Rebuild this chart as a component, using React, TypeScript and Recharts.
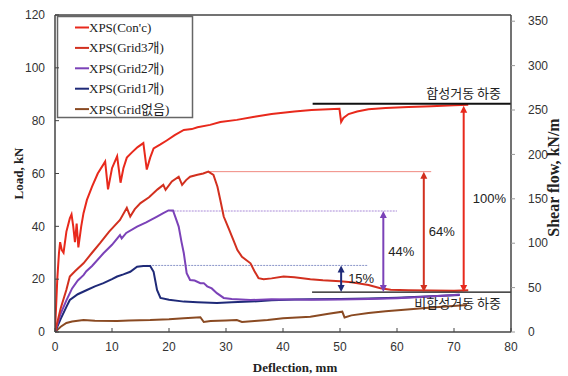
import React from "react";
import {
  ComposedChart,
  Line,
  XAxis,
  YAxis,
  ReferenceLine,
  Legend,
  Customized,
} from "recharts";

// deflection (mm), load (kN)
const concPoints = [
  [0, 0], [0.4, 20], [0.7, 30], [0.9, 34], [1.2, 31], [1.5, 30], [2.0, 38], [2.6, 43],
  [2.9, 44.5], [3.2, 40], [3.5, 34], [3.8, 41], [4.1, 32], [4.6, 40], [5.0, 45], [5.6, 50],
  [6.5, 55], [7.5, 60], [8.8, 64.5], [9.3, 54], [10.0, 62], [10.9, 66.5], [11.5, 56.5],
  [12.0, 62], [12.6, 66], [13.5, 68], [14.5, 70], [15.5, 71.5], [16.1, 61.5], [16.7, 66],
  [17.3, 69.5], [18.5, 71], [19.6, 72.5], [21, 74.5], [22.6, 76.5], [24, 76.8], [25, 77.5],
  [27.2, 78.4], [29, 79.5], [31.9, 80.3], [35, 81.5], [38, 82.5], [40, 83], [42, 83.5],
  [45, 84], [48, 84.3], [49.9, 84.5], [50.2, 79.5], [50.6, 81], [51.5, 82.5], [53, 83.5],
  [55, 84.3], [58, 84.8], [62, 85.2], [66, 85.5], [70, 85.8], [72.5, 86],
];

const grid3Points = [
  [0, 0], [1, 9], [2, 16], [2.6, 21], [3.5, 23], [5, 26], [6.5, 30], [7.9, 33.6], [9.5, 38],
  [11.4, 42.4], [12.6, 47], [13.2, 43.7], [14, 46.5], [15, 48.8], [16.5, 51], [18, 54],
  [19, 55.7], [19.4, 53.8], [20.5, 57], [21.7, 58.8], [22.3, 55.7], [23, 57.5], [23.7, 58.8],
  [25, 59.5], [26, 60], [26.9, 60.7], [27.8, 59.5], [28.5, 55], [29, 50], [29.6, 43.7],
  [30.5, 39], [31.3, 34.8], [32, 31], [32.8, 28.5], [34.3, 26], [35, 23], [35.7, 20.4],
  [36.6, 20], [38, 20.3], [40.1, 21], [42, 20.7], [44.8, 20], [47, 19.6], [50, 19.2],
  [52, 18.8], [55, 17.8], [57.1, 16.6], [58.9, 16], [62, 15.8], [66, 15.7], [70, 15.6], [72.5, 15.8],
];

const grid2Points = [
  [0, 0], [1, 7], [2, 12], [3, 16.5], [4, 19.5], [5, 21.5], [5.5, 23], [6.5, 25], [8.5, 29.8],
  [10, 33], [11.4, 36.7], [11.7, 35.4], [12.5, 37.5], [14.4, 39.9], [16, 41.5], [17.9, 43.7],
  [19, 45], [19.9, 46], [20.7, 46], [21.2, 43], [21.7, 39.9], [22.2, 34], [22.6, 29.8],
  [23.1, 22.3], [23.7, 19.7], [24.5, 19.5], [25.5, 18.5], [26.1, 18.5], [26.7, 17.3],
  [27.5, 16.5], [28.4, 14.7], [29.6, 12.9], [31, 12.5], [34.3, 12.1], [38, 12.4], [42, 12.3],
  [45, 12.2], [50, 12.3], [55, 12.5], [60, 12.8], [65, 13.3], [70, 14], [71, 14.2],
];

const grid1Points = [
  [0, 0], [1, 5], [2, 9.5], [2.6, 12.1], [4, 14.3], [5.6, 15.9], [7, 17.3], [8.5, 18.5],
  [10, 20], [10.9, 21], [12, 21.8], [13.2, 22.8], [14.4, 24.7], [15.5, 25], [16.7, 25],
  [17.3, 22.8], [17.9, 15.9], [18.5, 12.9], [20, 12.2], [22.6, 11.5], [25, 11.3], [28.4, 11],
  [31, 11.3], [34.3, 11.5], [38, 12], [42, 12.3], [44.8, 12.4], [50, 12.5], [55, 12.7],
  [60, 13], [65, 13.4], [70, 13.9], [71, 14],
];

const gridNonePoints = [
  [0, 0], [1, 2], [2, 3.4], [3, 4], [5, 4.5], [7, 4.3], [10.9, 4.2], [13, 4.4], [16.7, 4.5],
  [20, 4.8], [22.6, 5.2], [25.5, 5.6], [26.1, 3.8], [27.3, 4.2], [30, 4.4], [31.9, 4.5],
  [32.8, 3.8], [35, 4.2], [37.3, 4.5], [40, 5.2], [44.8, 5.8], [48, 6.9], [50.4, 7.7],
  [50.8, 5.5], [52, 6.3], [55, 7.2], [58, 7.9], [61.8, 8.5], [65, 9.1], [68, 9.6], [72.3, 10.2],
];

const seriesNames = ["XPS(Con'c)", "XPS(Grid3개)", "XPS(Grid2개)", "XPS(Grid1개)", "XPS(Grid없음)"];
const seriesColors = ["#e8291c", "#d2301f", "#7b42b8", "#1f2a78", "#8a4a22"];
const seriesPoints = [concPoints, grid3Points, grid2Points, grid1Points, gridNonePoints];

const xTicks = [0, 10, 20, 30, 40, 50, 60, 70, 80];
const loadTicks = [0, 20, 40, 60, 80, 100, 120];
const shearTicks = [0, 50, 100, 150, 200, 250, 300, 350];

// peak levels and the composite / non-composite loads
const compositeLoad = 86.4;
const nonCompositeLoad = 15.1;
const peakLines = [
  { from: 26.9, to: 66, y: 60.7, color: "#f08a80", dash: undefined },
  { from: 20.3, to: 60, y: 45.8, color: "#a98ad8", dash: "2 1" },
  { from: 16, to: 54.8, y: 25.2, color: "#8a94c8", dash: "2 1" },
];
const arrows = [
  { x: 50.2, top: 25.2, text: "15%", color: "#1f2a78", dx: 7 },
  { x: 57.6, top: 45.8, text: "44%", color: "#7b42b8", dx: 5 },
  { x: 64.7, top: 60.7, text: "64%", color: "#d2301f", dx: 5 },
  { x: 71.7, top: 85.6, text: "100%", color: "#e8291c", dx: 9 },
];

const tickStyle = { fontSize: 12, fill: "#333", fontFamily: "Liberation Sans, Arial, sans-serif" };
const titleFont = "Liberation Serif, Times New Roman, serif";

const makeArrow = (color: string, text: string, dx: number) => (props: any) => {
  const { x1, y1, y2 } = props;
  const top = Math.min(y1, y2);
  const bot = Math.max(y1, y2);
  const h = 7;
  const w = 3.5;
  return (
    <g>
      <line x1={x1} y1={top + h - 1} x2={x1} y2={bot - h + 1} stroke={color} strokeWidth={2} />
      <polygon points={`${x1},${top} ${x1 - w},${top + h} ${x1 + w},${top + h}`} fill={color} />
      <polygon points={`${x1},${bot} ${x1 - w},${bot - h} ${x1 + w},${bot - h}`} fill={color} />
      <text
        x={x1 + dx}
        y={(top + bot) / 2}
        dominantBaseline="central"
        fontSize={13}
        fill="#222"
        fontFamily="Liberation Sans, Arial, sans-serif"
      >
        {text}
      </text>
    </g>
  );
};

const makeLevel = (text: string, width: number, above: boolean) => (props: any) => {
  const { x1, y1, x2 } = props;
  const right = Math.max(x1, x2);
  return (
    <g>
      <line x1={x1} y1={y1} x2={x2} y2={y1} stroke="#111" strokeWidth={width} />
      <text
        x={right - 10}
        y={above ? y1 - 11 : y1 + 10}
        textAnchor="end"
        dominantBaseline="central"
        fontSize={13}
        fill="#222"
        fontFamily="Noto Sans CJK KR, sans-serif"
      >
        {text}
      </text>
    </g>
  );
};

// frame of the legend box, drawn in the chart svg under the legend items
const LegendFrame = () => (
  <rect x={57.5} y={16.5} width={135} height={101} fill="#fff" stroke="#666" strokeWidth={1.5} />
);

const renderLegend = () => (
  <svg width={136} height={102} style={{ display: "block" }}>
    {seriesNames.map((name, i) => (
      <g key={name}>
        <line
          x1={18}
          x2={32}
          y1={11.5 + i * 20.4}
          y2={11.5 + i * 20.4}
          stroke={seriesColors[i]}
          strokeWidth={2}
        />
        <text
          x={32}
          y={11.5 + i * 20.4}
          dominantBaseline="central"
          fontSize={13}
          fill="#222"
          fontFamily="Liberation Serif, Times New Roman, Noto Sans CJK KR, serif"
        >
          {name}
        </text>
      </g>
    ))}
  </svg>
);

export default function App() {
  return (
    <div style={{ position: "absolute", left: 0, top: 0, width: 568, height: 376, background: "#fff" }}>
      <ComposedChart width={568} height={376} margin={{ top: 15, right: 0, bottom: 0, left: 0 }}>
        <XAxis
          type="number"
          dataKey="x"
          domain={[0, 80]}
          ticks={xTicks}
          allowDataOverflow
          height={44}
          tick={tickStyle}
          tickSize={-4}
          tickMargin={14}
          axisLine={{ stroke: "#444", strokeWidth: 1.5 }}
          tickLine={{ stroke: "#444" }}
          label={{
            value: "Deflection, mm",
            position: "center",
            dx: 12,
            dy: 13,
            style: { fontFamily: titleFont, fontWeight: "bold", fontSize: 13, fill: "#222" },
          }}
        />
        <YAxis
          yAxisId="left"
          type="number"
          domain={[0, 120]}
          ticks={loadTicks}
          allowDataOverflow
          width={55}
          tick={tickStyle}
          tickSize={-4}
          tickMargin={14}
          axisLine={{ stroke: "#444", strokeWidth: 1.5 }}
          tickLine={{ stroke: "#444" }}
          label={{
            value: "Load, kN",
            position: "center",
            angle: -90,
            dx: -9,
            dy: 0,
            style: { fontFamily: titleFont, fontWeight: "bold", fontSize: 13, fill: "#222" },
          }}
        />
        <YAxis
          yAxisId="right"
          orientation="right"
          type="number"
          domain={[0, 357]}
          ticks={shearTicks}
          allowDataOverflow
          width={57}
          tick={{ ...tickStyle, textAnchor: "start" }}
          tickSize={4}
          tickMargin={13}
          axisLine={{ stroke: "#444", strokeWidth: 1.5 }}
          tickLine={{ stroke: "#999" }}
          label={{
            value: "Shear flow, kN/m",
            position: "center",
            angle: -90,
            dx: 14,
            dy: 4,
            style: { fontFamily: titleFont, fontWeight: "bold", fontSize: 16, fill: "#222" },
          }}
        />
        <ReferenceLine yAxisId="left" y={120} stroke="#444" strokeWidth={1.5} />

        {peakLines.map((p, i) => (
          <ReferenceLine
            key={`peak-${i}`}
            yAxisId="left"
            segment={[{ x: p.from, y: p.y }, { x: p.to, y: p.y }]}
            stroke={p.color}
            strokeWidth={1}
            strokeDasharray={p.dash}
          />
        ))}

        {seriesPoints.map((pts, i) => (
          <Line
            key={seriesNames[i]}
            yAxisId="left"
            data={pts.map(([x, y]) => ({ x, y }))}
            dataKey="y"
            name={seriesNames[i]}
            stroke={seriesColors[i]}
            strokeWidth={2}
            dot={false}
            type="linear"
            isAnimationActive={false}
          />
        )).reverse()}

        <ReferenceLine
          yAxisId="left"
          segment={[{ x: 45.2, y: compositeLoad }, { x: 80, y: compositeLoad }]}
          shape={makeLevel("합성거동 하중", 2, true)}
        />
        <ReferenceLine
          yAxisId="left"
          segment={[{ x: 45.1, y: nonCompositeLoad }, { x: 80, y: nonCompositeLoad }]}
          shape={makeLevel("비합성거동 하중", 1.3, false)}
        />

        {arrows.map((a, i) => (
          <ReferenceLine
            key={`arrow-${i}`}
            yAxisId="left"
            segment={[{ x: a.x, y: a.top }, { x: a.x, y: nonCompositeLoad }]}
            shape={makeArrow(a.color, a.text, a.dx)}
          />
        ))}

        <Customized component={LegendFrame} />

        <Legend
          layout="horizontal"
          verticalAlign="middle"
          align="center"
          content={renderLegend}
          wrapperStyle={{ left: 57, top: 16, width: 136, height: 102 }}
        />
      </ComposedChart>
    </div>
  );
}
